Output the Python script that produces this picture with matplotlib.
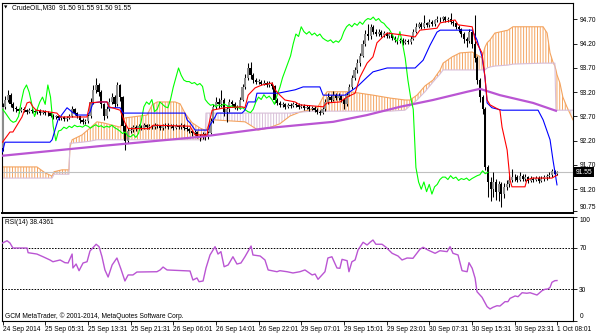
import matplotlib
matplotlib.use("Agg")
import matplotlib.pyplot as plt
import matplotlib.transforms as mtransforms
import numpy as np

plt.rcParams['font.family'] = ['Liberation Sans', 'DejaVu Sans']
plt.rcParams['hatch.linewidth'] = 0.7

# ---------------- data ----------------
symbol_title = "CrudeOIL,M30  91.50 91.55 91.50 91.55"
rsi_title = "RSI(14) 38.4361"
copyright_text = "GCM MetaTrader, \u00a9 2001-2014, MetaQuotes Software Corp."
last_price = 91.55
chikou_lag = 26  # chikou shift (bars)

first_open = 92.05
closes = [
    92.90, 93.05, 93.15, 92.95, 92.88, 92.85, 92.82, 92.86, 92.83, 92.80,
    92.84, 92.81, 92.79, 92.82, 92.78, 92.80, 92.77, 92.78, 92.72, 92.68,
    92.70, 92.66, 92.68, 92.64, 92.67, 92.70, 92.85, 92.78, 92.70, 92.62,
    92.58, 92.60, 92.70, 93.00, 93.25, 93.35, 93.20, 92.95, 92.70, 92.85,
    93.00, 93.10, 92.95, 93.35, 93.10, 92.50, 92.20, 92.40, 92.42, 92.48,
    92.45, 92.50, 92.47, 92.52, 92.49, 92.50, 92.48, 92.52, 92.50, 92.46,
    92.50, 92.53, 92.49, 92.51, 92.47, 92.50, 92.48, 92.52, 92.47, 92.44,
    92.40, 92.35, 92.38, 92.30, 92.28, 92.33, 92.27, 92.35, 92.60, 92.90,
    93.00, 92.95, 93.05, 92.80, 92.85, 93.00, 92.95, 92.90, 92.88, 93.05,
    93.30, 93.50, 93.70, 93.55, 93.45, 93.42, 93.42, 93.38, 93.40, 93.35,
    93.38, 93.32, 93.05, 92.98, 92.93, 92.95, 92.90, 92.94, 92.92, 92.96,
    92.93, 92.90, 92.92, 92.88, 92.90, 92.86, 92.88, 92.84, 92.80, 92.78,
    92.85, 93.00, 93.10, 93.05, 93.15, 93.08, 93.12, 93.05, 92.95, 93.15,
    93.30, 93.50, 93.65, 93.80, 93.95, 94.20, 94.40, 94.35, 94.55, 94.45,
    94.40, 94.45, 94.38, 94.42, 94.36, 94.40, 94.32, 94.28, 94.25, 94.28,
    94.22, 94.26, 94.23, 94.30, 94.45, 94.55, 94.60, 94.55, 94.62, 94.58,
    94.65, 94.60, 94.68, 94.72, 94.70, 94.75, 94.68, 94.72, 94.65, 94.62,
    94.55, 94.50, 94.40, 94.30, 94.25, 94.45, 94.20, 93.90, 93.45, 93.10,
    92.85, 91.65, 91.35, 91.20, 91.35, 91.15, 91.30, 91.10, 91.25, 91.30,
    91.40, 91.45, 91.45, 91.40, 91.48, 91.42, 91.45, 91.38, 91.42, 91.40,
    91.43, 91.38, 91.42, 91.45, 91.48, 91.50, 91.58, 91.52, 91.55,
]
highs = [
    92.98, 93.12, 93.25, 93.18, 93.00, 92.92, 92.88, 92.90, 92.89, 92.86,
    92.88, 92.87, 92.84, 92.86, 92.85, 92.84, 92.83, 92.82, 92.80, 92.75,
    92.74, 92.73, 92.72, 92.71, 92.71, 92.76, 92.92, 92.88, 92.80, 92.72,
    92.66, 92.65, 92.76, 93.08, 93.35, 93.50, 93.40, 93.24, 92.98, 92.92,
    93.08, 93.18, 93.14, 93.42, 93.38, 93.12, 92.55, 92.46, 92.48, 92.52,
    92.52, 92.54, 92.53, 92.56, 92.55, 92.54, 92.53, 92.56, 92.55, 92.53,
    92.54, 92.57, 92.56, 92.55, 92.54, 92.54, 92.53, 92.56, 92.55, 92.50,
    92.47, 92.43, 92.42, 92.40, 92.34, 92.37, 92.36, 92.40, 92.66, 92.96,
    93.10, 93.08, 93.25, 93.08, 92.92, 93.06, 93.05, 92.99, 92.94, 93.10,
    93.36, 93.58, 93.80, 93.82, 93.60, 93.50, 93.47, 93.45, 93.45, 93.44,
    93.43, 93.41, 93.35, 93.08, 93.01, 92.99, 92.98, 92.98, 92.97, 93.00,
    92.99, 92.97, 92.96, 92.95, 92.94, 92.93, 92.92, 92.91, 92.87, 92.84,
    92.90, 93.06, 93.18, 93.14, 93.22, 93.18, 93.18, 93.15, 93.08, 93.20,
    93.36, 93.55, 93.72, 93.88, 94.00, 94.28, 94.48, 94.60, 94.60, 94.58,
    94.50, 94.50, 94.48, 94.47, 94.45, 94.44, 94.42, 94.35, 94.31, 94.32,
    94.31, 94.30, 94.29, 94.35, 94.50, 94.62, 94.64, 94.64, 94.80, 94.65,
    94.70, 94.68, 94.72, 94.77, 94.76, 94.78, 94.78, 94.76, 94.84, 94.68,
    94.65, 94.58, 94.53, 94.44, 94.34, 94.50, 94.50, 94.80, 93.95, 93.50,
    93.15, 92.90, 91.70, 91.45, 91.55, 91.42, 91.38, 91.35, 91.32, 91.40,
    91.50, 91.62, 91.52, 91.50, 91.55, 91.52, 91.51, 91.48, 91.48, 91.46,
    91.48, 91.47, 91.47, 91.50, 91.52, 91.55, 91.62, 91.60, 91.58,
]
lows = [
    91.98, 92.86, 93.00, 92.90, 92.82, 92.80, 92.78, 92.79, 92.80, 92.76,
    92.77, 92.78, 92.75, 92.76, 92.74, 92.75, 92.73, 92.72, 92.68, 92.64,
    92.65, 92.62, 92.63, 92.60, 92.61, 92.64, 92.68, 92.74, 92.66, 92.57,
    92.54, 92.54, 92.57, 92.67, 92.96, 93.18, 93.12, 92.88, 92.62, 92.66,
    92.82, 92.96, 92.90, 92.92, 93.02, 92.40, 92.00, 92.15, 92.36, 92.39,
    92.41, 92.42, 92.43, 92.44, 92.45, 92.45, 92.44, 92.45, 92.46, 92.42,
    92.43, 92.47, 92.45, 92.46, 92.43, 92.44, 92.44, 92.45, 92.43, 92.40,
    92.36, 92.30, 92.31, 92.25, 92.20, 92.24, 92.21, 92.24, 92.33, 92.57,
    92.86, 92.88, 92.90, 92.72, 92.58, 92.80, 92.90, 92.85, 92.83, 92.85,
    93.02, 93.26, 93.45, 93.48, 93.40, 93.37, 93.37, 93.34, 93.34, 93.30,
    93.31, 93.27, 92.98, 92.94, 92.89, 92.89, 92.86, 92.87, 92.88, 92.89,
    92.89, 92.86, 92.87, 92.84, 92.85, 92.82, 92.83, 92.80, 92.76, 92.73,
    92.75, 92.82, 92.96, 93.00, 93.02, 93.03, 93.04, 93.00, 92.85, 92.92,
    93.12, 93.26, 93.46, 93.60, 93.75, 93.92, 94.15, 94.28, 94.30, 94.40,
    94.35, 94.36, 94.33, 94.34, 94.31, 94.32, 94.27, 94.23, 94.20, 94.21,
    94.18, 94.19, 94.19, 94.20, 94.27, 94.42, 94.52, 94.50, 94.52, 94.54,
    94.55, 94.56, 94.57, 94.64, 94.65, 94.67, 94.64, 94.64, 94.60, 94.56,
    94.50, 94.44, 94.34, 94.22, 94.14, 94.22, 94.12, 93.82, 93.38, 93.00,
    92.75, 91.60, 91.05, 90.95, 91.05, 90.98, 90.95, 90.83, 91.02, 91.18,
    91.25, 91.35, 91.38, 91.34, 91.36, 91.36, 91.37, 91.32, 91.34, 91.35,
    91.36, 91.33, 91.34, 91.38, 91.40, 91.43, 91.46, 91.48, 91.50,
]

tenkan_bars = [0, 2.8, 3.9, 7.3, 9.2, 10.3, 11.4, 12.6, 20.4, 21.6, 31.7, 32.8,
               36.6, 39.2, 39.9, 44.1, 45.9, 47.1, 55.0, 56.5, 70.3, 71.1, 72.2,
               76.7, 77.1, 78.6, 83.4, 89.8, 90.9, 92.1, 94.7, 97.3, 101.1, 102.2,
               104.0, 105.9, 109.7, 111.5, 120.2, 121.7, 126.5, 129.2, 132.2, 134.0,
               136.7, 138.9, 140.4, 142.6, 144.2, 150.2, 154.7, 156.5, 162.9, 164.1,
               169.7, 170.8, 176.1, 177.2, 179.8, 180.9, 181.7, 182.8, 186.5, 187.3,
               189.2, 190.3, 191.0, 195.9, 196.6, 198.6, 206.0, 207.9]
tenkan = [92.17, 92.38, 92.38, 92.69, 92.98, 93.00, 92.90, 92.83, 92.77, 92.69, 92.69, 92.98,
          93.00, 93.00, 92.90, 92.83, 92.57, 92.45, 92.45, 92.52, 92.50, 92.42, 92.32,
          92.32, 92.48, 92.83, 92.88, 92.90, 92.88, 93.14, 93.29, 93.35, 93.39, 93.25,
          93.14, 93.04, 93.00, 92.94, 92.90, 92.98, 93.00, 93.10, 93.18, 93.51,
          93.80, 93.93, 94.22, 94.34, 94.42, 94.38, 94.34, 94.48, 94.52, 94.63,
          94.69, 94.59, 94.55, 94.28, 94.01, 93.51, 93.04, 92.94, 92.83, 92.48,
          92.01, 91.39, 91.25, 91.25, 91.39, 91.43, 91.43, 91.49]

kijun_bars = [0, 0.9, 17.8, 18.6, 20.8, 24.2, 25.3, 26.1, 27.9, 31.7, 32.8, 33.9, 36.6,
              39.2, 39.9, 44.1, 45.2, 68.4, 69.2, 70.3, 72.2, 77.1, 77.8, 79.7, 80.4,
              89.8, 90.9, 92.1, 94.7, 95.4, 103.3, 109.7, 112.7, 119.0, 120.2, 128.4,
              132.9, 136.7, 138.9, 144.2, 154.7, 157.7, 160.3, 162.9, 164.1, 176.1,
              177.9, 179.8, 180.9, 181.7, 183.5, 187.3, 200.8, 202.7, 205.3, 206.4, 207.9]
kijun = [91.97, 92.17, 92.17, 92.22, 92.63, 92.88, 92.83, 92.79, 92.73, 92.73, 92.79, 92.98, 93.00,
         93.00, 92.88, 92.88, 92.77, 92.77, 92.63, 92.57, 92.42, 92.42, 92.52, 92.69, 92.77,
         92.77, 92.83, 93.00, 93.00, 93.18, 93.18, 93.25, 93.31, 93.31, 93.14, 93.14,
         93.31, 93.51, 93.62, 93.70, 93.70, 93.86, 94.17, 94.44, 94.48, 94.48,
         94.28, 93.93, 93.51, 92.98, 92.88, 92.83, 92.83, 92.63, 92.22, 91.80, 91.29]

cloud_bars = [-0.2, 12.9, 15.9, 18.6, 19.3, 22.3, 24.9, 25.3, 26.1, 29.8, 32.8, 35.4, 37.7,
              44.1, 45.9, 54.2, 56.1, 58.0, 64.7, 66.6, 68.4, 71.1, 74.1, 75.9, 76.3,
              77.8, 79.3, 90.9, 92.1, 95.8, 99.6, 104.0, 107.8, 111.5, 116.1, 118.3,
              120.2, 121.7, 130.4, 138.9, 145.3, 150.9, 152.8, 155.4, 158.4, 161.4,
              164.1, 165.2, 168.6, 171.5, 176.1, 177.9, 179.8, 180.9, 181.7, 182.8,
              184.6, 189.5, 191.4, 202.7, 204.2, 205.3, 206.4, 207.1, 207.5, 207.9,
              209.0, 210.1, 211.6, 213.9]
span_a = [91.66, 91.66, 91.54, 91.47, 91.56, 91.60, 91.60, 92.07, 92.22, 92.32, 92.46, 92.59, 92.57,
          92.48, 92.67, 92.73, 92.94, 93.00, 93.00, 92.96, 92.77, 92.57, 92.46, 92.42, 92.42,
          92.55, 92.63, 92.59, 92.55, 92.42, 92.46, 92.55, 92.71, 92.79, 92.85, 92.90,
          93.10, 93.21, 93.21, 93.14, 93.08, 93.04, 93.04, 93.14, 93.33, 93.45,
          93.66, 93.80, 93.93, 94.01, 94.03, 93.97, 93.91, 94.13, 94.22, 94.28,
          94.42, 94.48, 94.55, 94.55, 94.42, 94.01, 93.82, 93.74, 93.66, 93.56,
          93.39, 93.10, 92.90, 92.63]
span_b = [91.43, 91.43, 91.43, 91.43, 91.51, 91.51, 91.51, 92.15, 92.15, 92.17, 92.19, 92.22, 92.22,
          92.22, 92.22, 92.22, 92.22, 92.22, 92.22, 92.22, 92.22, 92.22, 92.22, 92.22, 92.77,
          92.77, 92.77, 92.77, 92.77, 92.77, 92.77, 92.77, 92.77, 92.79, 92.81, 92.81,
          92.81, 92.81, 92.81, 92.81, 92.81, 92.83, 92.92, 93.04, 93.21, 93.41,
          93.58, 93.66, 93.66, 93.66, 93.66, 93.66, 93.66, 93.66, 93.70, 93.72,
          93.74, 93.76, 93.78, 93.80, 93.80, 93.80, 93.80, 93.80, 92.83, 92.83,
          92.83, 92.83, 92.83, 92.83]

ma_bars = [-0.2, 36.6, 74.1, 99.2, 124.0, 136.7, 149.1, 161.4, 174.2, 179.0, 186.5, 198.9, 207.9]
ma = [91.89, 92.09, 92.28, 92.46, 92.59, 92.73, 92.90, 93.04, 93.21, 93.27, 93.14, 92.98, 92.81]

rsi_bars = [0, 1.7, 2.8, 3.9, 9.2, 9.6, 12.9, 15.2, 17.8, 18.9, 21.6, 23.4, 24.6, 26.1, 26.4,
            27.6, 28.7, 30.2, 31.7, 32.8, 35.1, 36.2, 37.3, 38.4, 39.6, 41.1, 42.9, 44.4,
            45.9, 47.1, 48.9, 50.4, 57.9, 59.1, 60.2, 61.7, 70.3, 71.4, 72.9, 73.7, 75.2,
            76.3, 77.8, 79.7, 80.8, 81.9, 83.1, 84.6, 86.4, 87.9, 89.4, 90.9, 93.2, 93.9,
            96.6, 98.4, 99.6, 102.9, 104.0, 106.7, 108.9, 111.5, 113.4, 116.1, 117.2, 118.3,
            120.9, 122.0, 123.5, 125.4, 126.5, 127.3, 129.2, 129.9, 131.0, 132.2, 133.3,
            135.2, 136.7, 137.8, 138.9, 140.0, 142.3, 143.8, 146.1, 148.3, 149.8, 151.7,
            153.9, 156.5, 157.7, 159.5, 162.2, 164.0, 166.7, 167.8, 168.9, 170.8, 172.3,
            174.2, 174.9, 176.1, 177.2, 177.9, 179.8, 181.7, 182.8, 183.9, 185.4, 186.5,
            188.4, 189.5, 190.3, 192.2, 193.3, 194.8, 196.6, 197.8, 200.4, 202.3, 203.4,
            204.5, 205.3, 206.0, 207.1, 207.9]
rsi = [74.5, 76.7, 74.5, 69.7, 69.7, 65.2, 63.9, 61.3, 58.2, 56.5, 58.2, 55.6, 55.3, 63.9, 50.5,
       54.3, 47.9, 55.3, 56.5, 66.8, 73.3, 71.0, 61.3, 48.6, 41.8, 53.4, 60.1, 49.5,
       38.0, 43.8, 43.8, 46.6, 46.9, 48.6, 51.4, 48.6, 47.6, 38.9, 40.9, 37.3, 38.0,
       50.5, 63.0, 71.0, 63.9, 66.2, 51.7, 53.4, 61.3, 54.3, 55.3, 61.3, 71.6, 63.0,
       62.0, 58.2, 48.6, 46.9, 47.9, 46.9, 45.7, 46.9, 48.6, 43.8, 44.7, 39.6,
       46.9, 60.1, 61.3, 50.5, 50.2, 58.8, 57.5, 46.9, 56.5, 58.2, 67.8,
       75.2, 72.6, 75.2, 77.4, 73.3, 73.3, 70.4, 64.6, 62.0, 58.2, 60.1,
       59.8, 68.5, 70.4, 67.8, 64.6, 67.1, 66.2, 71.0, 64.6, 63.0, 47.9,
       46.9, 55.6, 50.2, 40.6, 27.7, 22.3, 13.3, 11.1, 12.7, 14.2, 13.9,
       18.1, 18.1, 21.3, 23.6, 22.9, 26.7, 26.2, 26.7, 24.5, 28.7, 30.0,
       30.3, 31.9, 36.7, 38.3, 38.44]
rsi_levels = [70, 30]

time_label_bars = [0, 16, 32, 48, 64, 80, 96, 112, 128, 144, 160, 176, 192, 208]
time_labels = ["24 Sep 2014", "25 Sep 05:31", "25 Sep 13:31", "25 Sep 21:31",
               "26 Sep 06:01", "26 Sep 14:01", "26 Sep 22:01", "29 Sep 07:01",
               "29 Sep 15:01", "29 Sep 23:01", "30 Sep 07:31", "30 Sep 15:31",
               "30 Sep 23:31", "1 Oct 08:01"]
price_ticks = [94.70, 94.20, 93.70, 93.20, 92.70, 92.20, 91.70, 91.20, 90.75]
rsi_ticks = [100, 70, 30, 0]

# ---------------- figure ----------------
W, H = 600, 333
fig = plt.figure(figsize=(W / 100, H / 100), dpi=100)
fig.patch.set_facecolor('white')

def px_box(x0, y0, x1, y1):
    return [x0 / W, 1 - y1 / H, (x1 - x0) / W, (y1 - y0) / H]

ax = fig.add_axes(px_box(2, 3, 573, 213))
ax2 = fig.add_axes(px_box(2, 216.5, 573, 320.5))

XMIN, XMAX = -0.19, 213.9
FS = 4.8

# cloud
cb = np.array(cloud_bars)
A = np.array(span_a)
B = np.array(span_b)
ax.fill_between(cb, A, B, where=A >= B, interpolate=True, facecolor='none',
                edgecolor='#F4A460', hatch='||||||', linewidth=0, zorder=1)
ax.fill_between(cb, A, B, where=A < B, interpolate=True, facecolor='none',
                edgecolor='#D8BFD8', hatch='||||||', linewidth=0, zorder=1)
ax.plot(cb, A, color='#F4A460', lw=0.8, zorder=2)
ax.plot(cb, B, color='#D8BFD8', lw=0.8, zorder=2)

# current price line
ax.axhline(last_price, color='#C0C0C0', lw=0.8, zorder=2)

# candles
c = np.array(closes)
o = np.array([first_open] + closes[:-1])
hi = np.array(highs)
lo = np.array(lows)
bars = np.arange(len(c))
up = c >= o
ax.vlines(bars, lo, hi, colors='black', lw=0.75, zorder=3)
body_col = np.where(up, '#8C8C8C', '#000000')
ax.bar(bars, np.maximum(np.abs(c - o), 0.012), bottom=np.minimum(o, c), width=0.8,
       color=body_col, linewidth=0, zorder=4)

# moving average
ax.plot(ma_bars, ma, color='#BA55D3', lw=1.6, zorder=5, solid_capstyle='butt')
# chikou
ax.plot(bars[:-chikou_lag], c[chikou_lag:], color='#00FF00', lw=0.8, zorder=5)
# kijun
ax.plot(kijun_bars, kijun, color='#0000FF', lw=0.8, zorder=6)
# tenkan
ax.plot(tenkan_bars, tenkan, color='#FF0000', lw=0.8, zorder=6)

ax.set_xlim(XMIN, XMAX)
ax.set_ylim(90.71, 95.04)
ax.set_xticks([])
ax.yaxis.tick_right()
ax.set_yticks(price_ticks)
ax.set_yticklabels([f"{p:.2f}" for p in price_ticks])
ax.tick_params(axis='y', labelsize=FS, length=3, width=0.6, pad=1.5, colors='black')
ylabs = ax.get_yticklabels()
ylabs[-1].set_va('bottom')
for s in ax.spines.values():
    s.set_color('black')
    s.set_linewidth(0.8)
ax.spines['bottom'].set_linewidth(1.4)

trans = mtransforms.blended_transform_factory(ax.transAxes, ax.transData)
ax.text(1.0 + 3 / 571, last_price, f"{last_price:.2f}", transform=trans, ha='left',
        va='center', fontsize=FS, color='white', zorder=10, clip_on=False,
        bbox=dict(boxstyle='square,pad=0.25', fc='black', ec='black', lw=0))

# RSI panel
ax2.plot(rsi_bars, rsi, color='#BA55D3', lw=1.0, zorder=3)
for lvl in rsi_levels:
    ax2.axhline(lvl, color='black', lw=0.7, linestyle=(0, (1.6, 1.4)), zorder=2)
ax2.set_xlim(XMIN, XMAX)
ax2.set_ylim(0, 100)
ax2.yaxis.tick_right()
ax2.set_yticks(rsi_ticks)
ax2.set_yticklabels([str(v) for v in rsi_ticks])
ax2.tick_params(axis='y', labelsize=FS, length=3, width=0.6, pad=1.5, colors='black')
rlabs = ax2.get_yticklabels()
rlabs[0].set_va('top')
rlabs[-1].set_va('bottom')
ax2.set_xticks(time_label_bars)
ax2.set_xticklabels(time_labels, ha='left')
ax2.tick_params(axis='x', labelsize=FS, length=3, width=0.6, pad=1.0, colors='black')
for s in ax2.spines.values():
    s.set_color('black')
    s.set_linewidth(0.8)

# texts
fig.text(4 / W, 1 - 7.5 / H, "\u25bc", fontsize=3.2, ha='left', va='center',
         family=['DejaVu Sans'])
fig.text(12 / W, 1 - 7.5 / H, symbol_title, fontsize=FS, ha='left', va='center')
fig.text(5 / W, 1 - 222 / H, rsi_title, fontsize=FS, ha='left', va='center')
fig.text(5 / W, 1 - 316 / H, copyright_text, fontsize=FS, ha='left', va='center')

fig.savefig("out.png", dpi=100, facecolor='white')
